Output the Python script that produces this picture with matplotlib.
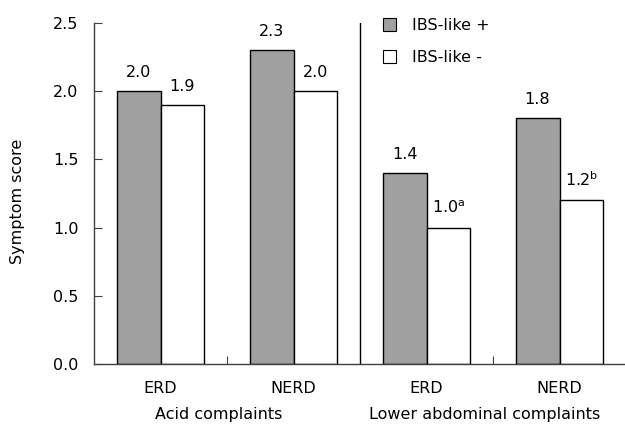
import numpy as np
import matplotlib.pyplot as plt
from matplotlib.patches import Patch

# Data
categories = ["ERD", "NERD", "ERD", "NERD"]
groups = ["Acid complaints", "Lower abdominal complaints"]
ibs_pos = [2.0, 2.3, 1.4, 1.8]
ibs_neg = [1.9, 2.0, 1.0, 1.2]
pos_labels = ["2.0", "2.3", "1.4", "1.8"]
neg_labels = ["1.9", "2.0", "1.0$^{\\mathrm{a}}$", "1.2$^{\\mathrm{b}}$"]

plt.rcParams['font.family'] = ['DejaVu Sans']
plt.rcParams['font.size'] = 11.5

fig = plt.figure(figsize=(6.25, 4.26), dpi=100)
ax = fig.add_axes([94 / 625, 1 - 364 / 426, 532 / 625, 341 / 426])

x = np.arange(len(categories))
w = 0.33
b1 = ax.bar(x - w / 2, ibs_pos, w, color='#a0a0a0', edgecolor='black', linewidth=1.0)
b2 = ax.bar(x + w / 2, ibs_neg, w, color='white', edgecolor='black', linewidth=1.0)

for rect, lab in zip(b1, pos_labels):
    ax.annotate(lab, (rect.get_x() + rect.get_width() / 2, rect.get_height()),
                xytext=(0, 8), textcoords='offset points', ha='center', va='bottom')
for rect, lab in zip(b2, neg_labels):
    ax.annotate(lab, (rect.get_x() + rect.get_width() / 2, rect.get_height()),
                xytext=(0, 8), textcoords='offset points', ha='center', va='bottom')

# separator between the two complaint groups
ax.axvline(1.5, color='black', linewidth=1.0)

ax.set_xlim(-0.5, 3.5)
ax.set_ylim(0, 2.5)
ax.set_yticks(np.arange(0, 2.51, 0.5))
ax.set_yticklabels([f"{v:.1f}" for v in np.arange(0, 2.51, 0.5)])
ax.set_xticks([0.5, 2.5])
ax.set_xticklabels([])
ax.tick_params(axis='y', direction='in', length=6, pad=11, color='#404040')
ax.tick_params(axis='x', direction='in', length=6, color='#404040')

for s in ['top', 'right']:
    ax.spines[s].set_visible(False)
for s in ['left', 'bottom']:
    ax.spines[s].set_color('#404040')
    ax.spines[s].set_linewidth(1.0)

for xi, c in zip(x, categories):
    ax.text(xi, -0.18, c, ha='center', va='center')
for xc, g in zip([0.44, 2.44], groups):
    ax.text(xc, -0.37, g, ha='center', va='center')

fig.text(18 / 625, 1 - 201 / 426, "Symptom score", rotation=90, ha='center', va='center')

handles = [Patch(facecolor='#a0a0a0', edgecolor='black', linewidth=0.8),
           Patch(facecolor='white', edgecolor='black', linewidth=0.8)]
ax.legend(handles, ["IBS-like +", "IBS-like -"], loc='upper left',
          bbox_to_anchor=(378 / 625, 1 - 13 / 426), bbox_transform=fig.transFigure,
          frameon=False, handlelength=0.85, handleheight=0.85, handletextpad=0.95,
          labelspacing=1.1, borderaxespad=0, borderpad=0.3)

fig.savefig("out.png", dpi=100)
